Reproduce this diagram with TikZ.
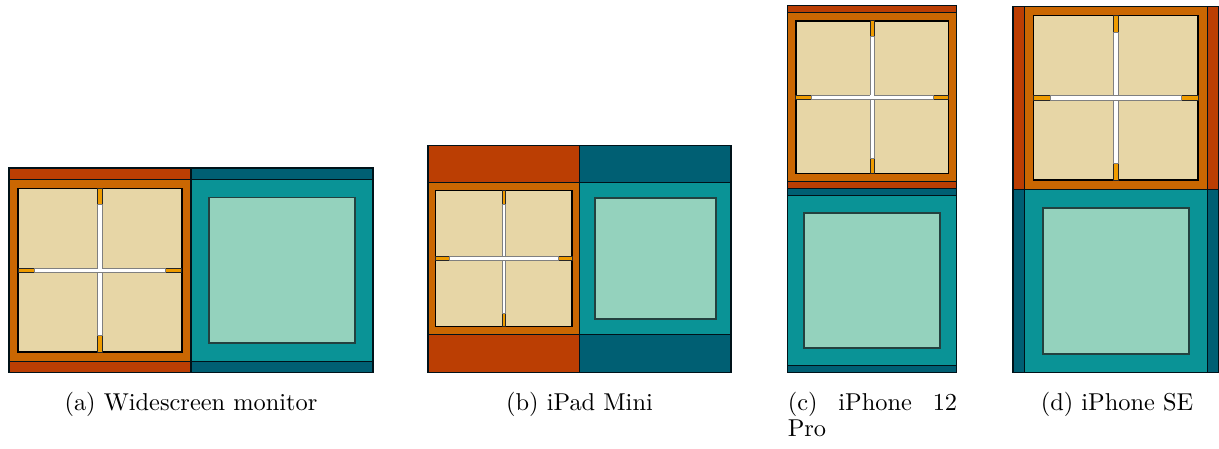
\documentclass[tikz,border=0pt]{standalone}
\definecolor{cBarR}{HTML}{BB3E03}
\definecolor{cOr}{HTML}{CA6702}
\definecolor{cTan}{HTML}{E7D6A6}
\definecolor{cAmb}{HTML}{EE9B00}
\definecolor{cBarT}{HTML}{005F73}
\definecolor{cTeal}{HTML}{0A9396}
\definecolor{cLight}{HTML}{94D2BD}
\definecolor{cLine}{HTML}{001219}
\definecolor{cInner}{HTML}{23413F}
\tikzset{
  barR/.style={fill=cBarR, draw=cLine, line width=0.5pt},
  barT/.style={fill=cBarT, draw=cLine, line width=0.5pt},
  orfr/.style={fill=cOr, draw=cLine, line width=0.5pt},
  tealfr/.style={fill=cTeal, draw=cLine, line width=0.5pt},
  tanfr/.style={fill=cTan, draw=black, line width=0.6pt},
  lightfr/.style={fill=cLight, draw=cInner, line width=0.8pt},
  gapor/.style={fill=cAmb, draw=black!85, line width=0.35pt},
  gapw/.style={fill=white, draw=black!50, line width=0.35pt},
  captext/.style={inner sep=0pt, font=\fontsize{10}{12}\selectfont}
}
\newcommand\workSq[3]{%
  \pgfmathsetmacro\wsM{0.05*#3}%
  \pgfmathsetmacro\wsT{#3-2*\wsM}%
  \pgfmathsetmacro\wsG{0.024*#3}%
  \pgfmathsetmacro\wsCx{#1+#3/2}%
  \pgfmathsetmacro\wsCy{#2+#3/2}%
  \pgfmathsetmacro\wsA{#2+\wsM}%
  \pgfmathsetmacro\wsB{#2+\wsM+\wsT}%
  \pgfmathsetmacro\wsL{#1+\wsM}%
  \pgfmathsetmacro\wsR{#1+\wsM+\wsT}%
  \pgfmathsetmacro\wsE{0.1*\wsT}%
  \path[orfr] (#1,#2) rectangle ++(#3,#3);
  \path[tanfr] (\wsL,\wsA) rectangle (\wsR,\wsB);
  \path[gapor] (\wsCx-\wsG/2,\wsA) rectangle (\wsCx+\wsG/2,\wsB);
  \path[gapor] (\wsL,\wsCy-\wsG/2) rectangle (\wsR,\wsCy+\wsG/2);
  \path[gapw] (\wsCx-\wsG/2,\wsA+\wsE) rectangle (\wsCx+\wsG/2,\wsB-\wsE);
  \path[gapw] (\wsL+\wsE,\wsCy-\wsG/2) rectangle (\wsR-\wsE,\wsCy+\wsG/2);
  \fill[white] (\wsCx-\wsG/2+0.3,\wsCy-\wsG/2+0.3) rectangle (\wsCx+\wsG/2-0.3,\wsCy+\wsG/2-0.3);
}
\newcommand\focusSq[3]{%
  \path[tealfr] (#1,#2) rectangle ++(#3,#3);
  \path[lightfr] (#1+0.1*#3,#2+0.1*#3) rectangle ++(0.8*#3,0.8*#3);
}
\begin{document}
\begin{tikzpicture}[x={(0.41pt,0pt)}, y={(0pt,-0.41pt)}]
\useasboundingbox (0,0) rectangle (1219,448);
% (a) Widescreen monitor
\path[barR] (9,168) rectangle (191,179.3);
\path[barR] (9,361.3) rectangle (191,372.3);
\path[barT] (191,168) rectangle (373,179.3);
\path[barT] (191,361.3) rectangle (373,372.3);
\workSq{9}{179.3}{182}
\focusSq{191}{179.3}{182}
% (b) iPad Mini
\path[barR] (428,145.3) rectangle (579.5,182.8);
\path[barR] (428,334.3) rectangle (579.5,372.3);
\path[barT] (579.5,145.3) rectangle (731,182.8);
\path[barT] (579.5,334.3) rectangle (731,372.3);
\workSq{428}{182.8}{151.5}
\focusSq{579.5}{182.8}{151.5}
% (c) iPhone 12 Pro
\path[barR] (787.3,5.3) rectangle (956.8,12.3);
\path[barR] (787.3,181.8) rectangle (956.8,188.8);
\path[barT] (787.3,188.8) rectangle (956.8,195.8);
\path[barT] (787.3,365.3) rectangle (956.8,372.3);
\workSq{787.3}{12.3}{169.5}
\focusSq{787.3}{195.8}{169.5}
% (d) iPhone SE
\path[barR] (1013,6.3) rectangle (1024.3,189.3);
\path[barR] (1207.3,6.3) rectangle (1218.6,189.3);
\path[barT] (1013,189.3) rectangle (1024.3,372.3);
\path[barT] (1207.3,189.3) rectangle (1218.6,372.3);
\workSq{1024.3}{6.3}{183}
\focusSq{1024.3}{189.3}{183}
% captions
\node[captext, anchor=base] (capA) at (191,410) {(a) Widescreen monitor};
\node[captext, anchor=base] (capB) at (579.5,410) {(b) iPad Mini};
\node[captext, anchor=base west] (capC1) at (787.3,410) {\makebox[69.45pt][s]{(c) iPhone 12}};
\node[captext, anchor=base west] (capC2) at (787.3,436) {Pro};
\node[captext, anchor=base] (capD) at (1117,410) {(d) iPhone SE};
\end{tikzpicture}
\end{document}
